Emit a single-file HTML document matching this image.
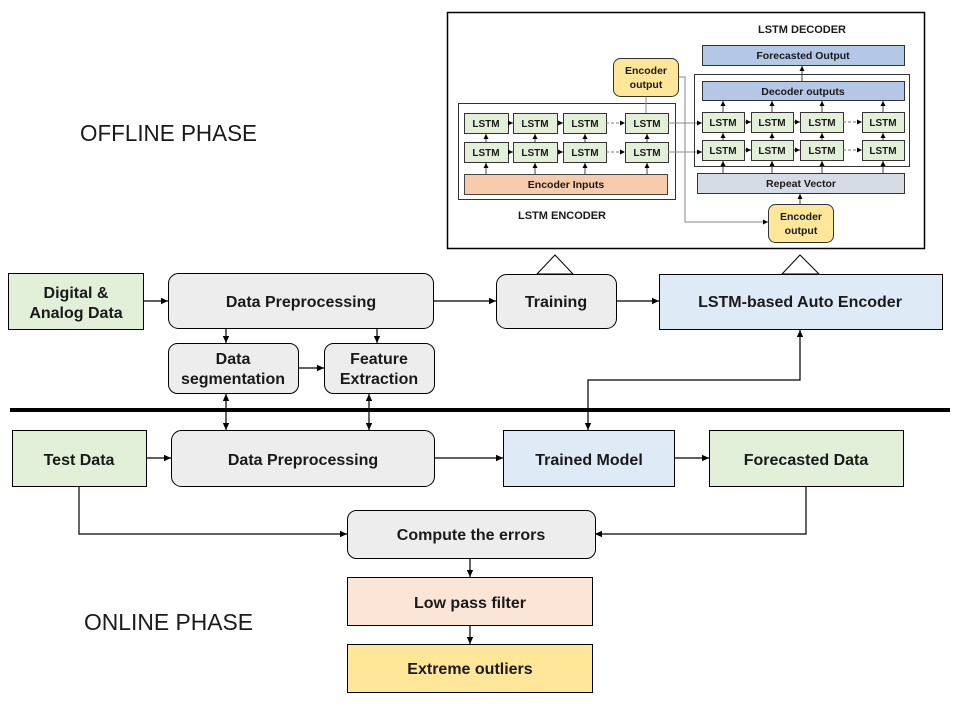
<!DOCTYPE html>
<html><head><meta charset="utf-8"><style>
html,body{margin:0;padding:0;background:#fff;}
svg{display:block;}
text{font-family:"Liberation Sans",sans-serif;fill:#1a1a1a;}
.b{font-weight:bold;}
</style></head><body>
<svg width="960" height="720" viewBox="0 0 960 720" xmlns="http://www.w3.org/2000/svg">
<defs>
<marker id="a" markerWidth="8" markerHeight="8" refX="7" refY="4" orient="auto" markerUnits="userSpaceOnUse"><path d="M0,0.8 L7,4 L0,7.2 z" fill="#000"/></marker>
<marker id="s" markerWidth="6" markerHeight="6" refX="5" refY="3" orient="auto" markerUnits="userSpaceOnUse"><path d="M0,0.5 L5,3 L0,5.5 z" fill="#000"/></marker>
<marker id="as" markerWidth="8" markerHeight="8" refX="1" refY="4" orient="auto" markerUnits="userSpaceOnUse"><path d="M8,0.8 L1,4 L8,7.2 z" fill="#000"/></marker>
</defs>

<!-- top inset -->
<rect x="447.5" y="12.5" width="477" height="236" fill="#fff" stroke="#000" stroke-width="1.5"/>
<text x="802" y="33" font-size="11" class="b" text-anchor="middle">LSTM DECODER</text>
<text x="562" y="219" font-size="11" class="b" text-anchor="middle">LSTM ENCODER</text>

<!-- encoder frame -->
<rect x="458.5" y="103.5" width="217" height="96" fill="#fff" stroke="#333" stroke-width="1"/>
<g stroke="#333" fill="#e2efd9" stroke-width="1">
<rect x="464.5" y="113.5" width="44" height="20"/><rect x="513.5" y="113.5" width="44" height="20"/><rect x="563.5" y="113.5" width="43" height="20"/><rect x="625.5" y="113.5" width="43" height="20"/>
<rect x="464.5" y="142.5" width="44" height="20"/><rect x="513.5" y="142.5" width="44" height="20"/><rect x="563.5" y="142.5" width="43" height="20"/><rect x="625.5" y="142.5" width="43" height="20"/>
<rect x="702.5" y="112.5" width="42" height="20"/><rect x="751.5" y="112.5" width="42" height="20"/><rect x="800.5" y="112.5" width="43" height="20"/><rect x="862.5" y="112.5" width="42" height="20"/>
<rect x="702.5" y="140.5" width="42" height="20"/><rect x="751.5" y="140.5" width="42" height="20"/><rect x="800.5" y="140.5" width="43" height="20"/><rect x="862.5" y="140.5" width="42" height="20"/>
</g>
<g font-size="10" class="b" text-anchor="middle">
<text x="486" y="127">LSTM</text><text x="535" y="127">LSTM</text><text x="585" y="127">LSTM</text><text x="647" y="127">LSTM</text>
<text x="486" y="156">LSTM</text><text x="535" y="156">LSTM</text><text x="585" y="156">LSTM</text><text x="647" y="156">LSTM</text>
<text x="723" y="126">LSTM</text><text x="772" y="126">LSTM</text><text x="822" y="126">LSTM</text><text x="883" y="126">LSTM</text>
<text x="723" y="154">LSTM</text><text x="772" y="154">LSTM</text><text x="822" y="154">LSTM</text><text x="883" y="154">LSTM</text>
</g>
<rect x="464.5" y="174.5" width="203" height="20" fill="#f8cbad" stroke="#444"/>
<text x="566" y="188" font-size="10.5" class="b" text-anchor="middle">Encoder Inputs</text>
<g stroke="#444" stroke-width="1" fill="none" marker-end="url(#s)">
<line x1="508" y1="123" x2="513" y2="123"/><line x1="557" y1="123" x2="563" y2="123"/>
<line x1="508" y1="152" x2="513" y2="152"/><line x1="557" y1="152" x2="563" y2="152"/>
<line x1="486" y1="142" x2="486" y2="134"/><line x1="535" y1="142" x2="535" y2="134"/><line x1="585" y1="142" x2="585" y2="134"/><line x1="647" y1="142" x2="647" y2="134"/>
<line x1="486" y1="174" x2="486" y2="163"/><line x1="535" y1="174" x2="535" y2="163"/><line x1="585" y1="174" x2="585" y2="163"/><line x1="647" y1="174" x2="647" y2="163"/>
<line x1="744" y1="122" x2="751" y2="122"/><line x1="793" y1="122" x2="800" y2="122"/>
<line x1="744" y1="150" x2="751" y2="150"/><line x1="793" y1="150" x2="800" y2="150"/>
<line x1="723" y1="140" x2="723" y2="133"/><line x1="772" y1="140" x2="772" y2="133"/><line x1="822" y1="140" x2="822" y2="133"/><line x1="883" y1="140" x2="883" y2="133"/>
<line x1="723" y1="112" x2="723" y2="101"/><line x1="772" y1="112" x2="772" y2="101"/><line x1="822" y1="112" x2="822" y2="101"/><line x1="883" y1="112" x2="883" y2="101"/>
<line x1="723" y1="173" x2="723" y2="161"/><line x1="772" y1="173" x2="772" y2="161"/><line x1="822" y1="173" x2="822" y2="161"/><line x1="883" y1="173" x2="883" y2="161"/>
<line x1="802" y1="81" x2="802" y2="66"/>
<line x1="800" y1="204" x2="800" y2="194"/>
</g>
<g stroke="#777" stroke-width="1" stroke-dasharray="3,2" fill="none" marker-end="url(#s)">
<line x1="606" y1="123" x2="625" y2="123"/><line x1="606" y1="152" x2="625" y2="152"/>
<line x1="843" y1="122" x2="862" y2="122"/><line x1="843" y1="150" x2="862" y2="150"/>
</g>
<g stroke="#888" stroke-width="1" fill="none">
<line x1="646" y1="96" x2="646" y2="113"/>
<polyline points="668,123 702,123" marker-end="url(#s)"/>
<polyline points="668,152 702,152" marker-end="url(#s)"/>
<polyline points="678,77 685,77 685,222 768,222" marker-end="url(#s)"/>
</g>
<rect x="694.5" y="74.5" width="215" height="92" fill="none" stroke="#333"/>
<rect x="702.5" y="45.5" width="202" height="20" fill="#b4c7e7" stroke="#333"/>
<text x="803" y="59" font-size="10.5" class="b" text-anchor="middle">Forecasted Output</text>
<rect x="702.5" y="81.5" width="202" height="19" fill="#b4c7e7" stroke="#333"/>
<text x="803" y="95" font-size="10.5" class="b" text-anchor="middle">Decoder outputs</text>
<rect x="697.5" y="173.5" width="207" height="20" fill="#d6dce5" stroke="#333"/>
<text x="801" y="187" font-size="10.5" class="b" text-anchor="middle">Repeat Vector</text>
<rect x="613.5" y="58.5" width="65" height="38" rx="7" fill="#ffe699" stroke="#333"/>
<text x="646" y="74" font-size="10.5" class="b" text-anchor="middle">Encoder</text>
<text x="646" y="88" font-size="10.5" class="b" text-anchor="middle">output</text>
<rect x="768.5" y="204.5" width="65" height="38" rx="7" fill="#ffe699" stroke="#333"/>
<text x="801" y="220" font-size="10.5" class="b" text-anchor="middle">Encoder</text>
<text x="801" y="234" font-size="10.5" class="b" text-anchor="middle">output</text>

<polygon points="537,274 555,255 573,274" fill="#fff" stroke="#000"/>
<polygon points="782,274 800,255 819,274" fill="#fff" stroke="#000"/>

<text x="80" y="141" font-size="23" textLength="177" lengthAdjust="spacingAndGlyphs">OFFLINE PHASE</text>
<text x="84" y="630" font-size="23" textLength="169" lengthAdjust="spacingAndGlyphs">ONLINE PHASE</text>

<line x1="10" y1="410" x2="950" y2="410" stroke="#000" stroke-width="4"/>

<rect x="8.5" y="273.5" width="135" height="56" fill="#e2efd9" stroke="#000"/>
<text x="76" y="298" font-size="16" class="b" text-anchor="middle">Digital &amp;</text>
<text x="76" y="318" font-size="16" class="b" text-anchor="middle">Analog Data</text>
<rect x="168.5" y="273.5" width="265" height="55" rx="10" fill="#ededed" stroke="#000"/>
<text x="301" y="307" font-size="16" class="b" text-anchor="middle">Data Preprocessing</text>
<rect x="496.5" y="274.5" width="120" height="54" rx="10" fill="#ededed" stroke="#000"/>
<text x="556" y="307" font-size="16" class="b" text-anchor="middle">Training</text>
<rect x="659.5" y="274.5" width="283" height="55" fill="#deebf7" stroke="#000"/>
<text x="800" y="307" font-size="16" class="b" text-anchor="middle">LSTM-based Auto Encoder</text>
<rect x="168.5" y="343.5" width="130" height="50" rx="9" fill="#ededed" stroke="#000"/>
<text x="233" y="364" font-size="16" class="b" text-anchor="middle">Data</text>
<text x="233" y="384" font-size="16" class="b" text-anchor="middle">segmentation</text>
<rect x="324.5" y="343.5" width="110" height="50" rx="9" fill="#ededed" stroke="#000"/>
<text x="379" y="364" font-size="16" class="b" text-anchor="middle">Feature</text>
<text x="379" y="384" font-size="16" class="b" text-anchor="middle">Extraction</text>

<rect x="12.5" y="430.5" width="134" height="56" fill="#e2efd9" stroke="#000"/>
<text x="79" y="465" font-size="16" class="b" text-anchor="middle">Test Data</text>
<rect x="171.5" y="430.5" width="263" height="56" rx="10" fill="#ededed" stroke="#000"/>
<text x="303" y="465" font-size="16" class="b" text-anchor="middle">Data Preprocessing</text>
<rect x="503.5" y="430.5" width="171" height="56" fill="#deebf7" stroke="#000"/>
<text x="589" y="465" font-size="16" class="b" text-anchor="middle">Trained Model</text>
<rect x="709.5" y="430.5" width="194" height="56" fill="#e2efd9" stroke="#000"/>
<text x="806" y="465" font-size="16" class="b" text-anchor="middle">Forecasted Data</text>
<rect x="347.5" y="510.5" width="248" height="48" rx="9" fill="#ededed" stroke="#000"/>
<text x="471" y="540" font-size="16" class="b" text-anchor="middle">Compute the errors</text>
<rect x="347.5" y="577.5" width="245" height="48" fill="#fbe5d6" stroke="#000"/>
<text x="470" y="608" font-size="16" class="b" text-anchor="middle">Low pass filter</text>
<rect x="347.5" y="644.5" width="245" height="48" fill="#ffe699" stroke="#000"/>
<text x="470" y="674" font-size="16" class="b" text-anchor="middle">Extreme outliers</text>

<g stroke="#000" stroke-width="1.2" fill="none">
<line x1="143" y1="301" x2="168" y2="301" marker-end="url(#a)"/>
<line x1="433" y1="301" x2="496" y2="301" marker-end="url(#a)"/>
<line x1="616" y1="301" x2="659" y2="301" marker-end="url(#a)"/>
<line x1="226" y1="329" x2="226" y2="343" marker-end="url(#a)"/>
<line x1="377" y1="329" x2="377" y2="343" marker-end="url(#a)"/>
<line x1="298" y1="368" x2="324" y2="368" marker-end="url(#a)"/>
<line x1="226" y1="394" x2="226" y2="430" marker-start="url(#as)" marker-end="url(#a)"/>
<line x1="369" y1="394" x2="369" y2="430" marker-start="url(#as)" marker-end="url(#a)"/>
<polyline points="588,430 588,380 800,380 800,330" marker-start="url(#as)" marker-end="url(#a)"/>
<line x1="146" y1="458" x2="171" y2="458" marker-end="url(#a)"/>
<line x1="434" y1="458" x2="503" y2="458" marker-end="url(#a)"/>
<line x1="674" y1="458" x2="709" y2="458" marker-end="url(#a)"/>
<polyline points="79,486 79,534 347,534" marker-end="url(#a)"/>
<polyline points="806,486 806,534 595,534" marker-end="url(#a)"/>
<line x1="470" y1="558" x2="470" y2="577" marker-end="url(#a)"/>
<line x1="470" y1="625" x2="470" y2="644" marker-end="url(#a)"/>
</g>
</svg>
</body></html>
